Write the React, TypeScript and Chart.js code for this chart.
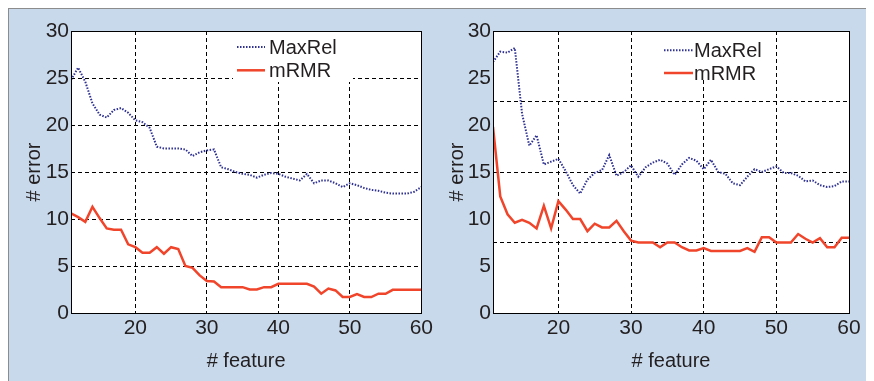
import React, { useEffect, useRef } from "react";
import { Chart, registerables } from "chart.js";

Chart.register(...registerables);

// ---------- data ----------
const FEATURES = [
  11, 12, 13, 14, 15, 16, 17, 18, 19, 20,
  21, 22, 23, 24, 25, 26, 27, 28, 29, 30,
  31, 32, 33, 34, 35, 36, 37, 38, 39, 40,
  41, 42, 43, 44, 45, 46, 47, 48, 49, 50,
  51, 52, 53, 54, 55, 56, 57, 58, 59, 60,
];

const LEFT_MAXREL = [
  24.8, 26.1, 24.6, 22.3, 21.1, 20.8, 21.6, 21.8, 21.3, 20.5,
  20.3, 19.7, 17.7, 17.5, 17.5, 17.5, 17.4, 16.7, 17.1, 17.3,
  17.4, 15.5, 15.3, 15.0, 14.8, 14.7, 14.4, 14.7, 14.9, 14.8,
  14.5, 14.3, 14.1, 14.8, 13.8, 14.1, 14.1, 13.8, 13.4, 13.8,
  13.6, 13.3, 13.1, 13.0, 12.8, 12.7, 12.7, 12.7, 12.9, 13.4,
];

const LEFT_MRMR = [
  10.6, 10.2, 9.7, 11.3, 10.1, 9.0, 8.85, 8.85, 7.3, 7.0,
  6.4, 6.4, 7.0, 6.3, 7.0, 6.8, 5.0, 4.8, 4.0, 3.4,
  3.35, 2.75, 2.75, 2.75, 2.75, 2.5, 2.5, 2.75, 2.75, 3.1,
  3.1, 3.1, 3.1, 3.1, 2.8, 2.05, 2.6, 2.4, 1.7, 1.7,
  2.0, 1.7, 1.7, 2.05, 2.05, 2.47, 2.47, 2.47, 2.47, 2.47,
];

const RIGHT_MAXREL = [
  26.7, 27.8, 27.7, 28.2, 21.2, 17.8, 18.9, 15.8, 16.1, 16.4,
  15.1, 13.6, 12.7, 14.2, 14.9, 15.2, 16.8, 14.6, 15.0, 15.7,
  14.5, 15.5, 16.0, 16.3, 15.9, 14.7, 15.8, 16.5, 16.2, 15.3,
  16.3, 15.0, 14.8, 13.8, 13.6, 14.5, 15.3, 15.0, 15.3, 15.6,
  14.9, 14.9, 14.6, 14.0, 14.1, 13.6, 13.4, 13.5, 14.0, 14.0,
];

const RIGHT_MRMR = [
  19.8, 12.4, 10.5, 9.6, 9.9, 9.6, 9.0, 11.4, 9.0, 11.9,
  11.0, 10.0, 10.0, 8.7, 9.5, 9.1, 9.1, 9.8, 8.7, 7.7,
  7.5, 7.5, 7.5, 7.0, 7.5, 7.5, 7.0, 6.65, 6.65, 6.9,
  6.6, 6.6, 6.6, 6.6, 6.6, 6.9, 6.5, 8.07, 8.07, 7.5,
  7.5, 7.5, 8.4, 7.9, 7.5, 7.96, 7.0, 7.0, 8.0, 8.0,
];

const SERIES_LABELS = ["MaxRel", "mRMR"];
const X_TITLE = "# feature";
const Y_TITLE = "# error";

// ---------- styles ----------
const FONT_FAMILY = "'Liberation Sans', Arial, Helvetica, sans-serif";
const TEXT_COLOR = "#231f20";
const BLUE = "#2e3192";
const RED = "#f0452b";
const PANEL_BG = "#c8d9eb";

const panelPlugin = {
  id: "panel",
  beforeDraw(chart: any) {
    const { ctx, chartArea: a } = chart;
    ctx.save();
    ctx.fillStyle = "#ffffff";
    ctx.fillRect(a.left, a.top, a.right - a.left, a.bottom - a.top);
    ctx.restore();
  },
  beforeDatasetsDraw(chart: any, _args: any, opts: any) {
    const { ctx, chartArea: a } = chart;
    ctx.save();
    ctx.fillStyle = "#ffffff";
    ctx.fillRect(a.left + opts.boxLeft, a.top, opts.boxRight - opts.boxLeft, opts.boxBottom);
    ctx.font = `20px ${FONT_FAMILY}`;
    ctx.textBaseline = "middle";
    ctx.textAlign = "left";
    chart.data.datasets.forEach((ds: any, i: number) => {
      const y = a.top + opts.rows[i];
      ctx.strokeStyle = ds.borderColor;
      ctx.lineWidth = ds.borderWidth;
      ctx.setLineDash(ds.borderDash || []);
      ctx.beginPath();
      ctx.moveTo(a.left + opts.sampleLeft, y);
      ctx.lineTo(a.left + opts.sampleRight, y);
      ctx.stroke();
      ctx.setLineDash([]);
      ctx.fillStyle = TEXT_COLOR;
      ctx.fillText(ds.label, a.left + opts.textLeft, y + 1);
    });
    ctx.restore();
  },
  afterDraw(chart: any) {
    const { ctx, chartArea: a } = chart;
    ctx.save();
    ctx.strokeStyle = "#000000";
    ctx.lineWidth = 1;
    ctx.setLineDash([]);
    ctx.strokeRect(Math.round(a.left) + 0.5, Math.round(a.top) + 0.5,
      Math.round(a.right - a.left), Math.round(a.bottom - a.top));
    ctx.restore();
  },
};

type PanelProps = {
  maxrel: number[];
  mrmr: number[];
  width: number;
  height: number;
  left: number;
  yAxisWidth: number;
  padRight: number;
  titlePad: number;
  oddGrid: boolean;
  legend: any;
};

function Panel(p: PanelProps) {
  const ref = useRef<HTMLCanvasElement | null>(null);
  useEffect(() => {
    if (!ref.current) return;
    const tickFont = { family: FONT_FAMILY, size: 21 };
    const titleFont = { family: FONT_FAMILY, size: 20 };
    const gridOpts = { color: "#000000", lineWidth: 1, drawTicks: false };
    const borderOpts = { display: false, dash: [4, 3] };
    const scales: any = {
      x: {
        type: "linear",
        min: 11,
        max: 60,
        ticks: { stepSize: 10, includeBounds: false, padding: 3, color: TEXT_COLOR, font: tickFont, maxRotation: 0 },
        grid: gridOpts,
        border: borderOpts,
        title: { display: true, text: X_TITLE, color: TEXT_COLOR, font: titleFont, padding: { top: 0, bottom: 8 } },
        afterFit: (s: any) => { s.height = 68; },
      },
      y: {
        type: "linear",
        min: 0,
        max: 30,
        ticks: { stepSize: 5, padding: 2, color: TEXT_COLOR, font: tickFont },
        grid: p.oddGrid ? { display: false, drawTicks: false } : gridOpts,
        border: borderOpts,
        title: { display: true, text: Y_TITLE, color: TEXT_COLOR, font: titleFont, padding: { top: p.titlePad, bottom: 0 } },
        afterFit: (s: any) => { s.width = p.yAxisWidth; },
      },
    };
    if (p.oddGrid) {
      scales.yg = {
        type: "linear",
        position: "right",
        min: 0,
        max: 30,
        ticks: { stepSize: 7.5, display: false },
        grid: gridOpts,
        border: borderOpts,
        afterFit: (s: any) => { s.width = 0; },
      };
    }
    const chart = new Chart(ref.current, {
      type: "line",
      data: {
        datasets: [
          {
            label: SERIES_LABELS[0],
            data: FEATURES.map((f, i) => ({ x: f, y: p.maxrel[i] })),
            borderColor: BLUE,
            borderWidth: 2,
            borderDash: [1.5, 1.5],
            pointRadius: 0,
            tension: 0,
            fill: false,
          },
          {
            label: SERIES_LABELS[1],
            data: FEATURES.map((f, i) => ({ x: f, y: p.mrmr[i] })),
            borderColor: RED,
            borderWidth: 2.5,
            pointRadius: 0,
            tension: 0,
            fill: false,
          },
        ],
      },
      options: {
        responsive: false,
        animation: false,
        events: [],
        layout: { padding: { top: 23, right: p.padRight, left: 0, bottom: 0 } },
        scales,
        plugins: {
          legend: { display: false },
          tooltip: { enabled: false },
          panel: p.legend,
        } as any,
      },
      plugins: [panelPlugin],
    });
    return () => chart.destroy();
  }, []);
  return (
    <canvas
      ref={ref}
      width={p.width}
      height={p.height}
      style={{ position: "absolute", left: p.left, top: 0, width: p.width, height: p.height }}
    />
  );
}

export default function App() {
  return (
    <div style={{ position: "relative", width: 860, height: 373 }}>
      <div
        style={{
          position: "absolute",
          left: 0,
          top: 0,
          width: 860,
          height: 373,
          boxSizing: "border-box",
          background: PANEL_BG,
          borderTop: "1px solid #8c8c8c",
          borderLeft: "1px solid #8c8c8c",
          borderRight: "1px solid #8c8c8c",
        }}
      />
      <Panel
        maxrel={LEFT_MAXREL}
        mrmr={LEFT_MRMR}
        width={428}
        height={373}
        left={0}
        yAxisWidth={63}
        padRight={9}
        titlePad={14}
        oddGrid={false}
        legend={{ boxLeft: 162, boxRight: 282, boxBottom: 51, sampleLeft: 166, sampleRight: 194, textLeft: 198, rows: [16, 39.3] }}
      />
      <Panel
        maxrel={RIGHT_MAXREL}
        mrmr={RIGHT_MRMR}
        width={432}
        height={373}
        left={428}
        yAxisWidth={57}
        padRight={19}
        titlePad={9}
        oddGrid={true}
        legend={{ boxLeft: 167, boxRight: 277, boxBottom: 49, sampleLeft: 171, sampleRight: 200, textLeft: 201, rows: [19.3, 42] }}
      />
    </div>
  );
}
